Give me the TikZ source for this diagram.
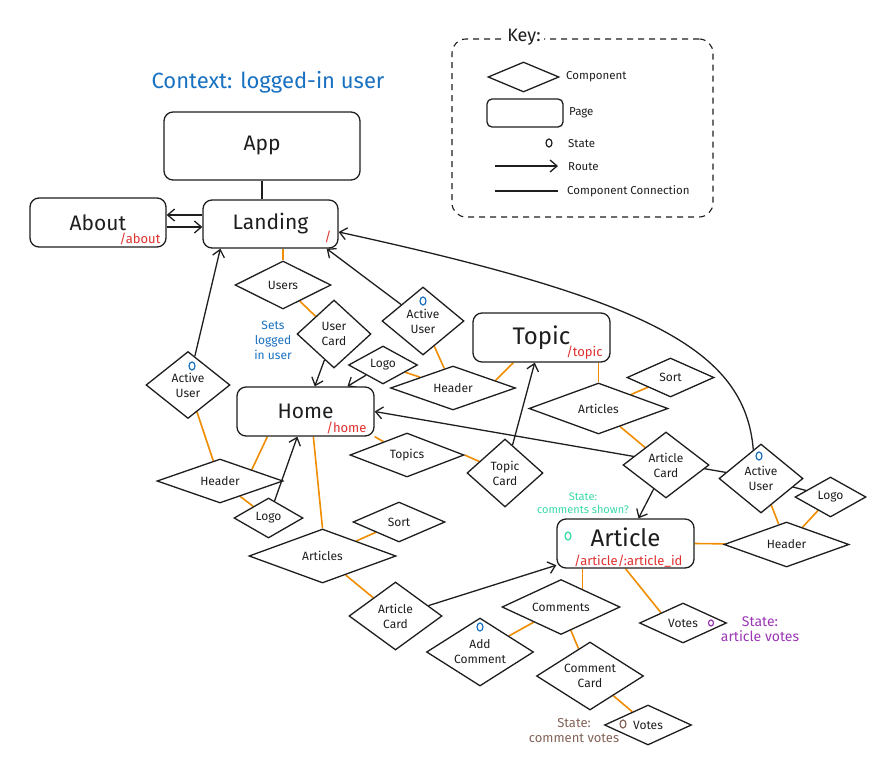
\documentclass[tikz,border=0pt]{standalone}
\usepackage{fontspec}
\setmainfont{Fira Sans}
\usetikzlibrary{shapes.geometric, arrows.meta, backgrounds}

\definecolor{ink}{HTML}{1E1E1E}
\definecolor{linkorange}{HTML}{F08C00}
\definecolor{noteblue}{HTML}{1971C2}
\definecolor{routered}{HTML}{E03131}
\definecolor{notegreen}{HTML}{38D9A9}
\definecolor{notepurple}{HTML}{9C36B5}
\definecolor{notebrown}{HTML}{846358}

\tikzstyle{page} = [rectangle, rounded corners=9pt, draw=ink, line width=1.3pt, fill=white, text=ink, font=\fontsize{21}{24}\selectfont]
\tikzstyle{bigpage} = [page, font=\fontsize{24}{28}\selectfont]
\tikzstyle{component} = [diamond, aspect=1.5, inner sep=0pt, draw=ink, line width=1.3pt, fill=white, text=ink, align=center, font=\fontsize{12}{15}\selectfont]
\tikzstyle{routetag} = [text=routered, inner sep=0pt, anchor=base east, font=\fontsize{13}{15}\selectfont]
\tikzstyle{state} = [ellipse, draw=noteblue, line width=1.2pt, minimum width=6pt, minimum height=8pt, inner sep=0pt]
\tikzstyle{note} = [align=center, inner sep=0pt, font=\fontsize{12}{15}\selectfont]
\tikzstyle{keytext} = [anchor=west, inner sep=0pt, text=ink, font=\fontsize{11.5}{13}\selectfont]
\tikzstyle{arrow} = [draw=ink, line width=1.3pt, ->, >={Straight Barb[length=7pt,width=12pt]}]
\tikzstyle{compline} = [draw=linkorange, line width=1.6pt]
\tikzstyle{plainline} = [draw=ink, line width=1.3pt]

\begin{document}
\begin{tikzpicture}[x=1pt, y=-1pt]
\useasboundingbox (0,0) rectangle (890,768);

\node (title) [note, text=noteblue, font=\fontsize{22}{26}\selectfont] at (268,82) {Context: logged-in user};

\node (keybox) [draw=ink, dash pattern=on 6pt off 5pt, line width=1.1pt, rounded corners=14pt, minimum width=261pt, minimum height=178pt] at (582.5,128) {};
\node (keytitle) [fill=white, inner sep=3pt, text=ink, font=\fontsize{18}{20}\selectfont] at (524,37) {Key:};
\node (keycomp) [component, minimum width=71pt, minimum height=30pt] at (523.5,77) {};
\node (keycomptext) [keytext] at (566,77) {Component};
\node (keypage) [page, rounded corners=5pt, minimum width=76pt, minimum height=28pt] at (525,113) {};
\node (keypagetext) [keytext] at (569,113) {Page};
\node (keystate) [state, draw=ink] at (549,143) {};
\node (keystatetext) [keytext] at (568,144) {State};
\coordinate (keyroutea) at (495,166);
\coordinate (keyrouteb) at (558,166);
\node (keyroutetext) [keytext] at (568,167) {Route};
\coordinate (keyconna) at (495,191);
\coordinate (keyconnb) at (558,191);
\node (keyconntext) [keytext] at (567,191) {Component Connection};

\node (app) [page, minimum width=196pt, minimum height=68pt] at (262,146) {App};
\node (landing) [page, minimum width=135pt, minimum height=48pt] at (270.5,224) {Landing};
\node (about) [page, minimum width=136pt, minimum height=49pt] at (98,222.5) {About};
\node (home) [page, minimum width=137pt, minimum height=49pt] at (305.5,411.5) {Home};
\node (topic) [bigpage, minimum width=137pt, minimum height=49pt] at (541.5,337.5) {Topic};
\node (article) [bigpage, minimum width=137pt, minimum height=49pt, inner sep=0pt, text height=16pt, text depth=10pt] at (625.5,543.5) {Article};

\node (abouttag) [routetag] at ([xshift=-6pt,yshift=4pt]about.south east) {/about};
\node (landingtag) [routetag] at ([xshift=-7pt,yshift=7pt]landing.south east) {/};
\node (hometag) [routetag] at ([xshift=-8pt,yshift=4pt]home.south east) {/home};
\node (topictag) [routetag] at ([xshift=-8pt,yshift=6pt]topic.south east) {/topic};
\node (articletag) [routetag] at ([xshift=-12pt,yshift=3pt]article.south east) {/article/:article\_id};

\node (users) [component, minimum width=96pt, minimum height=48pt] at (283,285) {Users};
\node (usercard) [component, minimum width=74pt, minimum height=68pt] at (334,334) {User\\Card};

\node (homeuser) [component, minimum width=84pt, minimum height=67pt] at (188,385) {Active\\User};
\node (homeheader) [component, minimum width=126pt, minimum height=44pt] at (220,481) {Header};
\node (homelogo) [component, minimum width=69pt, minimum height=40pt] at (268.5,518) {Logo};
\node (topics) [component, minimum width=114pt, minimum height=44pt] at (407,455) {Topics};
\node (topiccard) [component, minimum width=76pt, minimum height=68pt] at (505,473) {Topic\\Card};
\node (homearticles) [component, minimum width=147pt, minimum height=54pt] at (322.5,556) {Articles};
\node (homesort) [component, minimum width=92pt, minimum height=40pt] at (399,522) {Sort};
\node (homearticlecard) [component, minimum width=93pt, minimum height=68pt] at (395.5,616) {Article\\Card};

\node (topicuser) [component, minimum width=82pt, minimum height=68pt] at (423,321) {Active\\User};
\node (topiclogo) [component, minimum width=69pt, minimum height=38pt] at (383,365) {Logo};
\node (topicheader) [component, minimum width=125pt, minimum height=44pt] at (453,388) {Header};
\node (topicarticles) [component, minimum width=139pt, minimum height=51pt] at (598.5,408.5) {Articles};
\node (topicsort) [component, minimum width=87pt, minimum height=39pt] at (670.5,377.5) {Sort};
\node (topicarticlecard) [component, minimum width=86pt, minimum height=66pt] at (666,465) {Article\\Card};

\node (articleuser) [component, minimum width=84pt, minimum height=69pt] at (761,478.5) {Active\\User};
\node (articlelogo) [component, minimum width=71pt, minimum height=40pt] at (830.5,497) {Logo};
\node (articleheader) [component, minimum width=125pt, minimum height=45pt] at (786.5,544.5) {Header};
\node (comments) [component, minimum width=118pt, minimum height=55pt] at (561,607) {Comments};
\node (addcomment) [component, minimum width=107pt, minimum height=68pt] at (480,652) {Add\\Comment};
\node (commentcard) [component, minimum width=107pt, minimum height=68pt] at (590,676) {Comment\\Card};
\node (articlevotes) [component, minimum width=87pt, minimum height=40pt] at (683,623) {Votes};
\node (commentvotes) [component, minimum width=87pt, minimum height=40pt] at (648,725) {Votes};

\node (homeuserstate) [state] at (192,366) {};
\node (topicuserstate) [state] at (423,301) {};
\node (articleuserstate) [state] at (759,456) {};
\node (addcommentstate) [state] at (480,627) {};
\node (articlestate) [state, draw=notegreen] at (568,536) {};
\node (articlevotesstate) [state, draw=notepurple, minimum width=5pt, minimum height=6pt] at (711,623) {};
\node (commentvotesstate) [state, draw=notebrown] at (623,724) {};

\node (setsuser) [note, text=noteblue] at (273,340) {Sets\\logged\\in user};
\node (commentsshown) [note, text=notegreen, font=\fontsize{11}{13}\selectfont] at (583,503) {State:\\comments shown?};
\node (articlevotesnote) [note, text=notepurple, font=\fontsize{14}{15}\selectfont] at (760,629) {State:\\article votes};
\node (commentvotesnote) [note, text=notebrown, font=\fontsize{13}{15}\selectfont] at (574,731) {State:\\comment votes};

\begin{pgfonlayer}{background}
\draw [plainline] (app.south) -- (app.south |- landing.north);
\draw [arrow] ([yshift=9pt]landing.west) -- ([yshift=9pt]landing.west -| about.east);
\draw [arrow] ([yshift=-3pt]landing.west -| about.east) -- ([yshift=-3pt]landing.west);
\draw [compline] (users.north) -- (users.north |- landing.south);
\draw [compline] (users) -- (usercard);
\draw [arrow] (usercard) -- (home);
\draw [arrow] (topicuser) -- ([xshift=-12pt]landing.south east);
\draw [compline] (topicuser) -- (topicheader);
\draw [arrow] (topiclogo) -- (home);
\draw [compline] (topiclogo) -- (topicheader);
\draw [compline] (topicheader.10) -- ([xshift=41pt]topic.south west);
\draw [arrow] (topiccard) -- (topic);
\draw [compline] (topicarticles.north) -- (topicarticles.north |- topic.south);
\draw [compline] (topicsort) -- (topicarticles);
\draw [compline] (topicarticles) -- (topicarticlecard);
\draw [arrow] (topicarticlecard) -- (article);
\draw [arrow] (articleuser) -- (home.east);
\draw [arrow] (articleuser.105) .. controls (745,350) and (650,300) .. ([yshift=-8pt]landing.east);
\draw [plainline] (articleuser) -- (articlelogo);
\draw [compline] (articleuser) -- (articleheader);
\draw [compline] (articlelogo) -- (articleheader);
\draw [compline] (article.east) -- (articleheader);
\draw [arrow] (homearticlecard) -- (article);
\draw [compline] (comments.40) -- (comments.40 |- article.south);
\draw [compline] (article.south) -- (articlevotes.north west);
\draw [compline] (comments) -- (addcomment);
\draw [compline] (comments) -- (commentcard);
\draw [compline] (commentcard) -- (commentvotes);
\draw [arrow] (homeuser) -- ([xshift=18pt]landing.south west);
\draw [compline] (homeuser) -- (homeheader);
\draw [compline] (homeheader.north east) -- ([xshift=31pt]home.south west);
\draw [compline] (homeheader) -- (homelogo);
\draw [arrow] (homelogo) -- ([xshift=61pt]home.south west);
\draw [compline] (home.south east) -- (topics);
\draw [compline] (topics.east) -- (topiccard);
\draw [compline] (homearticles.north) -- ([xshift=77pt]home.south west);
\draw [compline] (homearticles) -- (homesort);
\draw [compline] (homearticles) -- (homearticlecard);
\draw [arrow] (keyroutea) -- (keyrouteb);
\draw [plainline] (keyconna) -- (keyconnb);
\end{pgfonlayer}

\end{tikzpicture}
\end{document}
